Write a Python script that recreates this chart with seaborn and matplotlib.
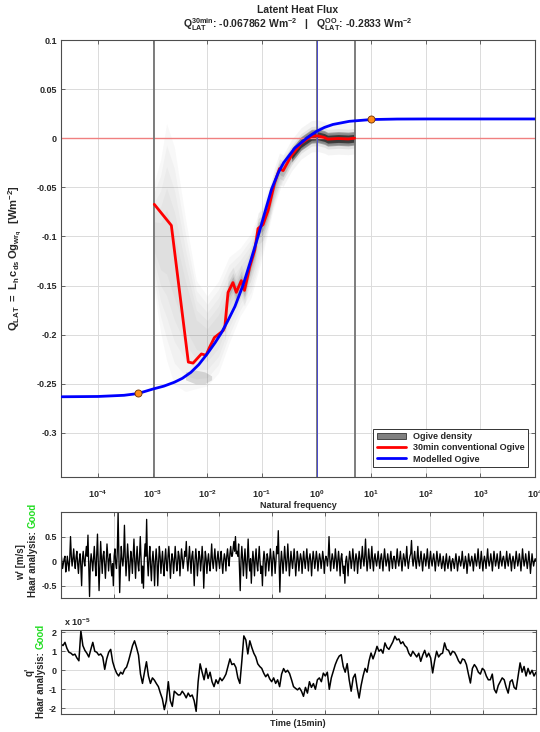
import numpy as np
import matplotlib
matplotlib.use("Agg")
import matplotlib.pyplot as plt
import seaborn as sb
from matplotlib.patches import Patch
from matplotlib.lines import Line2D
from matplotlib.ticker import FixedLocator, NullFormatter, FuncFormatter

# ---- data ----
# modelled ogive (blue)
model_freq = [2.2e-5, 1e-4, 3e-4, 5.4e-4, 1e-3, 1.6e-3, 2.5e-3, 3.5e-3, 5e-3, 7e-3, 1e-2,
              1.4e-2, 1.8e-2, 2.4e-2, 3.2e-2, 4.5e-2, 6.3e-2, 8.5e-2, 0.11, 0.15, 0.2,
              0.25, 0.4, 0.66, 1.0, 1.4, 2.0, 4.0, 10, 30, 100, 1e3, 1e4]
model_q = [-0.2633, -0.2630, -0.2618, -0.2600, -0.2555, -0.2525, -0.2485, -0.2445, -0.2385,
           -0.2305, -0.2195, -0.2080, -0.1985, -0.1855, -0.1715, -0.1500, -0.1240, -0.1000,
           -0.0780, -0.0520, -0.0350, -0.0250, -0.0100, 0.0000, 0.0070, 0.0110, 0.0140,
           0.0172, 0.0190, 0.0195, 0.0196, 0.0196, 0.0196]

# 30 min conventional ogive (red)
ogive_freq = [1.07e-3, 2.2e-3, 4.5e-3, 5.5e-3, 7.8e-3, 9.5e-3, 1.1e-2, 1.35e-2, 1.95e-2, 2.1e-2,
              2.4e-2, 2.95e-2, 3.4e-2, 4.2e-2, 4.8e-2, 6.0e-2, 7.4e-2, 8.5e-2, 0.105, 0.13,
              0.17, 0.21, 0.245, 0.35, 0.52, 0.81, 1.07, 1.4, 1.6, 2.5, 3.8, 5.0]
ogive_q = [-0.0673, -0.0888, -0.2280, -0.2290, -0.2197, -0.2210, -0.2130, -0.2030, -0.1960,
           -0.1920, -0.1570, -0.1470, -0.1570, -0.1450, -0.1550, -0.1310, -0.1140, -0.0920,
           -0.0880, -0.0735, -0.0460, -0.0310, -0.0330, -0.0173, -0.0054, 0.0020, 0.0024,
           0.0007, -0.0010, -0.0003, -0.0008, 0.0000]

# ogive density cloud envelope (grey)
dens_freq = [1.07e-3, 1.4e-3, 1.8e-3, 2.5e-3, 4e-3, 6.3e-3, 1e-2, 1.6e-2, 2.5e-2, 4e-2,
             6.3e-2, 0.1, 0.16, 0.25, 0.4, 0.63, 1.0, 2.0, 5.0]
dens_upper = [-0.05, -0.03, 0.004, -0.02, -0.09, -0.15, -0.165, -0.15, -0.125, -0.115,
              -0.10, -0.07, -0.04, -0.018, -0.006, 0.0, 0.004, 0.004, 0.003]
dens_lower = [-0.15, -0.19, -0.215, -0.24, -0.25, -0.25, -0.248, -0.235, -0.205, -0.178,
              -0.16, -0.12, -0.072, -0.04, -0.02, -0.006, -0.004, -0.005, -0.004]
blob_freq = [4e-3, 6e-3, 9e-3, 1.2e-2]
blob_hi = [-0.238, -0.236, -0.238, -0.242]
blob_lo = [-0.246, -0.250, -0.250, -0.246]

# orange markers
dot_freq = [5.4e-4, 10.0]
dot_q = [-0.2595, 0.0192]

# vertical marker lines
vline_grey = [1.05e-3, 1.0, 5.0]
vline_blue = [1.0]

xtick_vals = [1e-4, 1e-3, 1e-2, 1e-1, 1e0, 1e1, 1e2, 1e3, 1e4]
xtick_labels = ["$10^{-4}$", "$10^{-3}$", "$10^{-2}$", "$10^{-1}$", "$10^{0}$",
                "$10^{1}$", "$10^{2}$", "$10^{3}$", "$10^{4}$"]

# w' time series [m/s]
w_rows = [
    [0.18, 0.02, -0.15, -0.05, 0.05, 0.1, -0.22, -0.08, 0.1, -0.05, -0.2, 0.05, 0.5, 0.1, -0.1, 0.05, 0.25, 0.0, -0.15, 0.08,
     0.2, -0.05, -0.25, 0.02, 0.15, -0.1, -0.5, 0.05, 0.2, 0.0, -0.1, 0.12, 0.3, 0.1, 0.53, -0.1, -0.72, -0.05, 0.15, 0.0],
    [-0.2, 0.05, 0.3, -0.05, -0.3, 0.1, 0.55, 0.0, -0.6, -0.1, 0.4, 0.05, -0.25, 0.1, 0.2, -0.05, -0.35, 0.0, 0.35, 0.1,
     -0.2, 0.05, 0.15, -0.1, -0.3, -0.05, -0.5, 0.1, 0.25, -0.05, -0.15, 0.2, 1.0, 0.1, -0.64, -0.1, 0.3, 0.05, -0.1, 0.1],
    [0.73, 0.1, -0.3, 0.0, 0.35, 0.05, -0.4, -0.1, 0.2, 0.05, -0.25, 0.1, 0.45, 0.0, -0.35, 0.05, 0.3, -0.05, -0.2, 0.1,
     0.5, 0.0, -0.45, -0.1, -0.55, 0.05, 0.35, 0.1, 0.85, 0.0, -0.3, 0.05, 0.3, -0.1, -0.4, 0.0, 0.2, -0.05, -0.5, 0.0],
    [0.25, 0.0, -0.5, -0.05, 0.3, 0.1, -0.25, 0.0, 0.2, -0.1, -0.3, 0.05, 0.25, -0.05, -0.2, 0.1, 0.3, 0.0, -0.35, -0.05,
     0.15, 0.05, -0.25, 0.0, 0.3, 0.05, -0.2, -0.05, 0.2, 0.1, -0.3, 0.0, 0.25, 0.05, -0.15, 0.0, 0.2, 0.1, 0.4, 0.0],
    [-0.2, 0.05, 0.3, 0.0, -0.25, 0.1, 0.2, -0.05, -0.5, 0.0, 0.25, 0.05, -0.3, -0.05, 0.2, 0.1, -0.2, 0.0, 0.3, 0.05,
     -0.55, -0.1, 0.2, 0.05, -0.25, 0.0, 0.15, -0.05, -0.2, 0.05, 0.35, 0.0, -0.15, 0.05, 0.25, 0.0, -0.2, 0.05, 0.2, 0.0],
    [-0.15, 0.05, 0.2, -0.05, -0.25, 0.0, 0.15, 0.05, -0.2, 0.1, 0.25, 0.05, -0.1, 0.15, 0.3, 0.1, 0.1, 0.25, 0.4, 0.2,
     0.5, 0.15, 0.2, 0.1, 0.35, -0.1, -0.6, 0.0, 0.3, 0.05, -0.3, 0.0, 0.25, -0.05, -0.35, 0.05, 0.45, 0.0, -0.2, 0.05],
    [-0.45, -0.05, 0.2, 0.0, -0.3, 0.05, 0.25, -0.05, -0.2, 0.05, 0.3, 0.0, -0.25, -0.1, -0.5, 0.0, 0.2, 0.05, -0.3, -0.05,
     0.15, 0.05, -0.2, 0.0, 0.25, 0.05, -0.3, 0.0, 0.2, 0.05, -0.25, 0.0, 0.3, 0.15, 0.62, 0.0, -0.63, -0.05, 0.2, 0.0],
    [-0.25, 0.0, 0.3, 0.05, -0.2, 0.0, 0.35, 0.05, -0.3, -0.05, 0.2, 0.0, -0.15, 0.05, 0.25, 0.0, -0.3, -0.05, 0.2, 0.05,
     -0.2, 0.0, 0.15, 0.05, -0.25, 0.0, 0.2, 0.0, -0.15, 0.05, 0.25, 0.0, -0.2, 0.05, 0.15, 0.0, -0.3, 0.0, 0.2, 0.05],
    [-0.15, 0.0, 0.2, 0.05, -0.2, 0.0, 0.15, 0.05, -0.15, 0.0, 0.2, 0.05, -0.25, 0.0, 0.1, 0.05, -0.1, 0.1, 0.5, 0.05,
     -0.2, 0.0, 0.15, 0.05, -0.15, 0.0, 0.25, 0.05, -0.2, 0.0, 0.2, 0.0, -0.3, 0.05, 0.15, -0.05, -0.25, -0.1, -0.45, 0.0],
    [0.1, -0.05, -0.3, 0.0, 0.2, 0.05, -0.15, 0.0, 0.25, 0.05, -0.2, 0.0, 0.15, 0.05, -0.25, 0.0, 0.2, 0.05, -0.15, 0.05,
     0.3, 0.05, -0.1, 0.1, 0.45, 0.05, -0.2, 0.0, 0.25, 0.05, -0.15, 0.05, 0.3, 0.0, -0.2, 0.05, 0.15, 0.0, -0.1, 0.05],
    [0.2, 0.0, -0.15, 0.05, 0.15, 0.0, -0.2, 0.05, 0.25, 0.05, -0.1, 0.0, 0.15, 0.0, -0.2, 0.05, 0.2, 0.0, -0.15, 0.05,
     0.1, 0.0, -0.15, 0.05, 0.25, 0.0, -0.1, 0.05, 0.2, 0.0, -0.2, 0.0, 0.15, 0.05, -0.1, 0.05, 0.3, 0.0, -0.15, 0.0],
    [0.1, 0.15, 0.42, 0.05, -0.1, 0.05, 0.2, 0.0, -0.15, 0.05, 0.3, 0.0, -0.1, 0.05, 0.2, 0.0, -0.2, 0.0, 0.15, 0.05,
     -0.1, 0.05, 0.25, 0.0, -0.15, 0.05, 0.2, 0.0, -0.1, 0.05, 0.15, 0.0, -0.2, 0.0, 0.2, 0.05, -0.1, 0.0, 0.15, 0.0],
    [-0.15, -0.05, 0.1, -0.05, -0.2, 0.0, 0.15, -0.05, -0.15, 0.0, 0.1, -0.05, -0.2, 0.0, 0.05, -0.05, -0.15, 0.0, 0.15, 0.0,
     -0.2, -0.05, 0.1, 0.0, -0.1, 0.0, 0.2, 0.0, -0.15, -0.05, 0.1, 0.0, -0.25, -0.05, 0.15, 0.0, -0.1, 0.0, 0.1, 0.0],
    [-0.2, 0.0, 0.15, 0.0, -0.1, 0.05, 0.25, 0.0, -0.15, 0.0, 0.2, 0.0, -0.2, 0.0, 0.1, 0.0, -0.15, 0.05, 0.25, 0.0,
     -0.1, 0.0, 0.15, 0.0, -0.2, 0.0, 0.2, 0.05, -0.1, 0.0, 0.15, 0.0, -0.15, 0.0, 0.2, 0.0, -0.1, 0.05, 0.1, 0.0],
    [-0.15, 0.0, 0.2, 0.0, -0.1, 0.05, 0.15, 0.0, -0.2, 0.0, 0.1, 0.0, -0.15, 0.0, 0.2, 0.05, -0.1, 0.0, 0.15, 0.0,
     -0.2, 0.0, 0.25, 0.05, -0.1, 0.0, 0.15, 0.0, -0.15, 0.0, 0.2, 0.0, -0.25, -0.05, 0.15, 0.0, -0.1, 0.0, 0.05, 0.0],
]
w_prime = [v for row in w_rows for v in row]

# q' time series [x 1e-5]
q_rows = [
    [1.38, 1.3, 1.47, 1.15, 0.95, 0.9, 0.8, 0.85, 0.65, 0.5, 2.07, 1.3, 1.05, 0.9, 0.7, 1.1, 1.47, 1.0, 0.95, 0.8],
    [0.86, 0.7, 0.05, 0.6, 0.95, 1.1, 0.45, 0.1, -0.15, -0.3, -0.1, -0.2, 0.05, 0.17, 0.5, 0.9, 1.3, 1.55, 1.2, 0.8],
    [-0.2, -0.69, -0.1, 0.45, -0.3, -0.69, -0.4, -0.52, -0.7, -0.86, -1.2, -1.5, -2.07, -1.6, -0.6, -1.6, -1.9, -1.1, -1.2, -1.3],
    [-1.29, -1.1, -1.25, -1.45, -1.2, -1.38, -1.3, -1.6, -2.16, -0.6, 0.34, -0.1, -0.5, 0.1, -0.43, -0.1, -0.6, -0.86, -0.5, -0.7],
    [-0.4, -0.55, -0.4, -0.2, 0.2, 0.6, 0.3, 0.35, 0.15, -0.4, -0.69, 0.5, 1.81, 1.6, 0.86, 1.55, 1.2, 0.9, 0.7, 0.34],
    [0.2, 0.1, -0.15, -0.34, -0.2, -0.45, -0.6, -0.4, -0.69, -0.5, -0.86, -0.2, 0.09, -0.1, 0.0, -0.17, -0.5, -0.86, -0.95, -1.03],
    [-0.93, -1.1, -1.37, -0.9, -1.2, -0.6, -0.9, -0.7, -1.0, -0.5, -0.4, -0.6, -0.15, -0.3, -0.1, -1.0, -0.4, -0.05, 0.3, 0.56],
    [0.75, 0.82, 0.2, -0.1, 0.35, -0.5, -1.1, -0.4, -0.2, -0.9, -1.46, -0.8, -0.3, 0.1, -0.1, 0.5, 0.91, 0.6, 0.9, 1.26],
    [1.0, 1.1, 0.9, 1.44, 1.2, 1.1, 1.3, 1.5, 1.79, 1.6, 1.65, 1.4, 1.5, 1.3, 1.2, 0.9, 0.74, 1.0, 0.85, 0.7],
    [0.9, 0.47, 0.8, 1.05, 0.7, 0.9, 0.65, -0.14, 0.5, 1.0, 0.7, 0.85, 0.9, 1.44, 1.1, 1.05, 0.8, 1.0, 0.95, 0.75],
    [0.5, 0.35, 0.6, 0.55, 0.3, -0.2, -0.67, 0.1, 0.3, 0.15, -0.1, -0.2, 0.1, 0.0, -0.3, -0.5, -0.5, -0.2, -1.0, -1.19],
    [-0.8, -0.6, -0.4, -0.5, -0.9, -1.2, -0.6, -0.5, -0.9, -1.0, -0.3, 0.39, -0.1, 0.2, -0.3, 0.1, -0.2, 0.0, -0.3, -0.1],
]
q_prime = [v for row in q_rows for v in row]

n_samples = 18000

# ---- style ----
sb.set_theme(style="ticks")
plt.rcParams["font.family"] = ["Liberation Sans", "DejaVu Sans"]
plt.rcParams["font.weight"] = "bold"
plt.rcParams["mathtext.fontset"] = "custom"
plt.rcParams["mathtext.rm"] = "Liberation Sans:bold"
plt.rcParams["mathtext.it"] = "Liberation Sans:bold"
plt.rcParams["mathtext.bf"] = "Liberation Sans:bold"

W, H = 540, 732
fig = plt.figure(figsize=(W / 100, H / 100), dpi=100)


def px_axes(l, t, r, b):
    return fig.add_axes([l / W, 1 - b / H, (r - l) / W, (b - t) / H])


def matlab_style(ax):
    for s in ax.spines.values():
        s.set_color("0.3")
        s.set_linewidth(0.8)
    ax.tick_params(direction="in", top=True, right=True, length=3, width=0.6,
                   color="0.3", labelsize=6.5, pad=3)
    ax.grid(True, color="0.86", linewidth=0.7)
    ax.set_axisbelow(True)


def gnum(v, pos):
    s = "%g" % round(v, 6)
    return "0" if s == "-0" else s


gfmt = FuncFormatter(gnum)

# ---- top panel: ogive ----
ax1 = px_axes(61, 40, 535, 477)
matlab_style(ax1)
ax1.set_xscale("log")
ax1.set_xlim(2.1e-5, 1e4)
ax1.set_ylim(-0.345, 0.1)
ax1.xaxis.set_major_locator(FixedLocator(xtick_vals))
ax1.xaxis.set_minor_formatter(NullFormatter())
ax1.xaxis.set_minor_locator(FixedLocator([]))
ax1.set_xticklabels(xtick_labels)
ax1.tick_params(axis="x", pad=8)
ax1.set_yticks(np.arange(-0.3, 0.101, 0.05))
ax1.yaxis.set_major_formatter(gfmt)

# density cloud, layered to look blurred
up = np.array(dens_upper)
lo = np.array(dens_lower)
mid = (up + lo) / 2
half = (up - lo) / 2
for s in [1.1, 0.9, 0.7, 0.5, 0.3]:
    ax1.fill_between(dens_freq, mid - half * s, mid + half * s, color="0.4",
                     alpha=0.045, linewidth=0)
ax1.fill_between(blob_freq, blob_lo, blob_hi, color="0.35", alpha=0.2, linewidth=0)
of = np.array(ogive_freq)
oq = np.array(ogive_q)
core = of >= 0.02
for w, a in [(0.016, 0.06), (0.01, 0.1), (0.006, 0.18)]:
    ax1.fill_between(of[core], oq[core] - w, oq[core] + w, color="0.3", alpha=a, linewidth=0)
plat = of >= 0.3
for w, a in [(0.007, 0.3), (0.004, 0.55)]:
    ax1.fill_between(of[plat], oq[plat] - w, oq[plat] + w, color="0.0", alpha=a, linewidth=0)

ax1.axhline(0, color="#f08080", linewidth=1.0, zorder=2)
for v in vline_grey:
    ax1.axvline(v, color="0.45", linewidth=1.3, zorder=2)
for v in vline_blue:
    ax1.axvline(v, color="#4a4ad0", linewidth=0.7, zorder=2.5)

sb.lineplot(x=ogive_freq, y=ogive_q, ax=ax1, color="#ff0000", linewidth=2, sort=False,
            estimator=None, zorder=4)
sb.lineplot(x=model_freq, y=model_q, ax=ax1, color="#0000ff", linewidth=2, sort=False,
            estimator=None, zorder=5)
sb.scatterplot(x=dot_freq, y=dot_q, ax=ax1, color="#ff8c1a", edgecolor="#703000",
               s=26, linewidth=0.6, zorder=6)

ax1.set_ylabel(r"$\mathbf{Q_{LAT}\ =\ L_h\,c_{ds}\,Og_{wr_q}\ \ [Wm^{-2}]}$", fontsize=8)
ax1.yaxis.set_label_coords(-0.078, 0.5)
fig.text(298 / W, 1 - 505 / H, "Natural frequency", ha="center", va="center",
         fontsize=6.5, fontweight="bold")

handles = [Patch(facecolor="0.5", edgecolor="0.2", linewidth=0.6),
           Line2D([], [], color="#ff0000", linewidth=2),
           Line2D([], [], color="#0000ff", linewidth=2)]
leg = ax1.legend(handles, ["Ogive density", "30min conventional Ogive", "Modelled Ogive"],
                 loc="lower right", fontsize=6.5, frameon=True, fancybox=False,
                 edgecolor="0.2", framealpha=1, handlelength=3.2, borderpad=0.4,
                 labelspacing=0.25, bbox_to_anchor=(0.995, 0.012))
leg.get_frame().set_linewidth(0.7)

fig.text(298 / W, 1 - 10 / H, "Latent Heat Flux", ha="center", va="center",
         fontsize=7.5, fontweight="bold")
fig.text(298 / W, 1 - 25 / H,
         r"$\mathbf{Q_{LAT}^{30min}}$: -0.067862 Wm$^{\mathbf{-2}}$   |   "
         r"$\mathbf{Q_{LAT}^{OO}}$: -0.2833 Wm$^{\mathbf{-2}}$",
         ha="center", va="center", fontsize=7.5, fontweight="bold")

# ---- middle panel: w' ----
t_w = np.linspace(0, n_samples, len(w_prime))
ax2 = px_axes(61, 512, 536, 598)
matlab_style(ax2)
sb.lineplot(x=t_w, y=w_prime, ax=ax2, color="black", linewidth=0.95, sort=False, estimator=None)
ax2.set_xlim(0, n_samples)
ax2.set_ylim(-0.75, 1.0)
ax2.set_xticks(np.arange(0, n_samples + 1, 2000))
ax2.set_xticklabels([])
ax2.set_yticks([-0.5, 0, 0.5])
ax2.yaxis.set_major_formatter(gfmt)
fig.text(21 / W, 1 - 562 / H, "w' [m/s]", rotation=90, ha="center", va="center",
         fontsize=7, fontweight="bold")
fig.text(33 / W, 1 - 528 / H, "Haar analysis: ", rotation=90, ha="center", va="top",
         fontsize=7, fontweight="bold")
fig.text(33 / W, 1 - 528 / H, "Good", rotation=90, ha="center", va="bottom",
         fontsize=7, fontweight="bold", color="#22dd22")

# ---- bottom panel: q' ----
t_q = np.linspace(0, n_samples, len(q_prime))
ax3 = px_axes(61, 630, 536, 714)
matlab_style(ax3)
sb.lineplot(x=t_q, y=q_prime, ax=ax3, color="black", linewidth=1.1, sort=False, estimator=None)
ax3.set_xlim(0, n_samples)
ax3.set_ylim(-2.3, 2.12)
ax3.set_xticks(np.arange(0, n_samples + 1, 2000))
ax3.set_xticklabels([])
ax3.set_yticks([-2, -1, 0, 1, 2])
ax3.yaxis.set_major_formatter(gfmt)
fig.text(64 / W, 1 - 622 / H, r"x 10$^{\mathbf{-5}}$", ha="left", va="center", fontsize=6.5,
         fontweight="bold")
fig.text(30 / W, 1 - 672 / H, "q'", rotation=90, ha="center", va="center",
         fontsize=7, fontweight="bold")
fig.text(41 / W, 1 - 649 / H, "Haar analysis: ", rotation=90, ha="center", va="top",
         fontsize=7, fontweight="bold")
fig.text(41 / W, 1 - 649 / H, "Good", rotation=90, ha="center", va="bottom",
         fontsize=7, fontweight="bold", color="#22dd22")
fig.text(298 / W, 1 - 724 / H, "Time (15min)", ha="center", va="center", fontsize=6.5,
         fontweight="bold")

fig.savefig("out.png", dpi=100)
